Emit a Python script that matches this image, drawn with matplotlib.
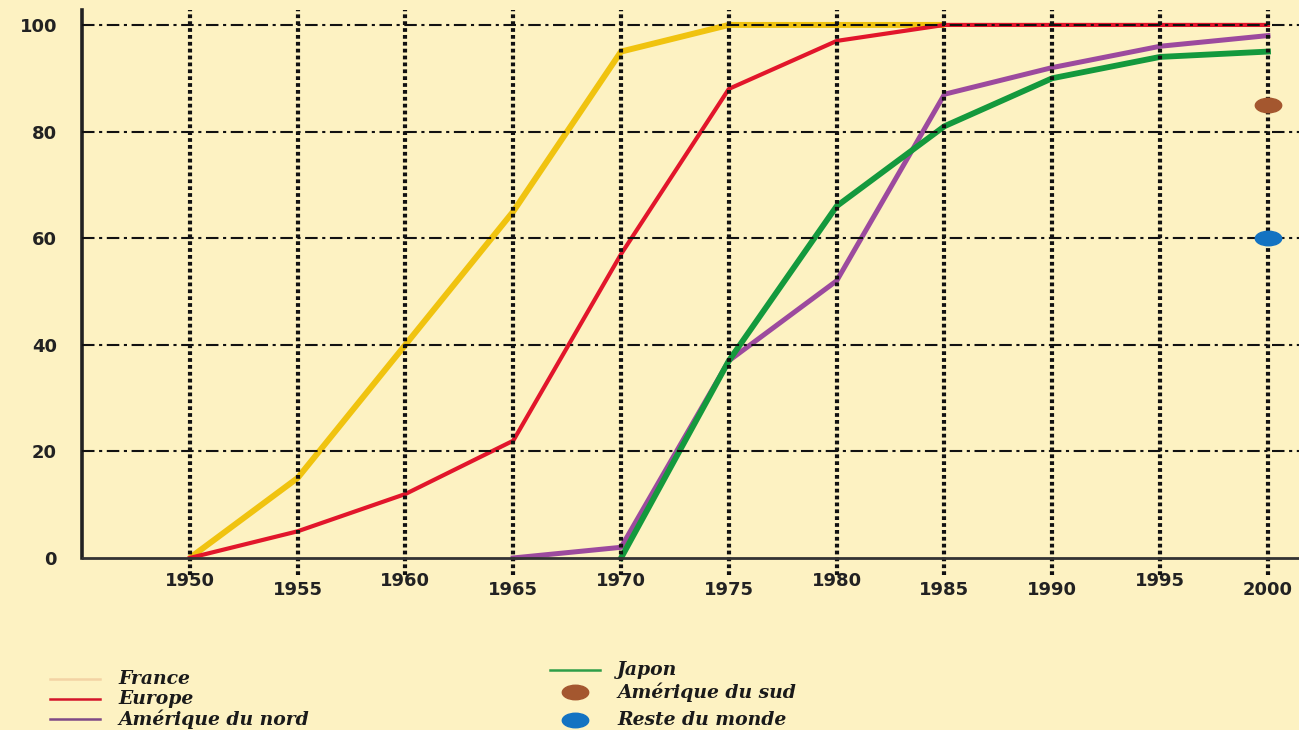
import matplotlib.pyplot as plt
import matplotlib.transforms as mtransforms
from matplotlib.path import Path
from matplotlib.lines import Line2D

# Taux d'équipement (%) par région
years = [1950, 1955, 1960, 1965, 1970, 1975, 1980, 1985, 1990, 1995, 2000]

france_years = [1950, 1955, 1960, 1965, 1970, 1975, 1980, 1985]
france = [0, 15, 40, 65, 95, 100, 100, 100]

europe_years = years
europe = [0, 5, 12, 22, 57, 88, 97, 100, 100, 100, 100]

nord_years = [1965, 1970, 1975, 1980, 1985, 1990, 1995, 2000]
amerique_nord = [0, 2, 37, 52, 87, 92, 96, 98]

japon_years = [1970, 1975, 1980, 1985, 1990, 1995, 2000]
japon = [0, 37, 66, 81, 90, 94, 95]

sud_year, amerique_sud = 2000, 85
monde_year, reste_monde = 2000, 60

y_ticks = [0, 20, 40, 60, 80, 100]
# labels alternate up/down under the axis
label_low = [False, True, False, True, False, True, False, True, True, False, True]

bg = '#FDF2C2'
c_france = '#F0C30F'
c_europe = '#E2162B'
c_nord = '#9C4A9E'
c_japon = '#14993D'
c_sud = '#A4572F'
c_monde = '#1373C2'

fig = plt.figure(figsize=(12.99, 7.30), dpi=100, facecolor=bg)
ax = fig.add_axes([0.0631, 0.2123, 0.9369, 0.774])
ax.set_facecolor(bg)
ax.set_xlim(1945, 2001.44)
ax.set_ylim(-3.2, 102.8)

ax.plot(france_years, france, color=c_france, lw=4.3, solid_capstyle='butt', zorder=2)
ax.plot(europe_years, europe, color=c_europe, lw=3.0, zorder=3)
ax.plot(nord_years, amerique_nord, color=c_nord, lw=3.6, zorder=3)
ax.plot(japon_years, japon, color=c_japon, lw=4.2, zorder=4)

# elliptical markers for the single 2000 values
ell = Path.unit_circle().transformed(mtransforms.Affine2D().scale(1.0, 0.55))
ax.plot([sud_year], [amerique_sud], marker=ell, ms=19, color=c_sud, ls='none', zorder=8)
ax.plot([monde_year], [reste_monde], marker=ell, ms=19, color=c_monde, ls='none', zorder=8)

# grid drawn over the curves
for y in y_ticks[1:]:
    ax.axhline(y, color='#111111', lw=1.5, dashes=(6, 2.2, 1.5, 2.2), zorder=6)
for x in years:
    ax.axvline(x, color='#111111', lw=3.0, dashes=(0.9, 0.75), zorder=6)
ax.axhline(0, color='#333333', lw=2.0, zorder=6)

for s in ['top', 'right', 'bottom']:
    ax.spines[s].set_visible(False)
ax.spines['left'].set_linewidth(2.6)
ax.spines['left'].set_color('#222222')
ax.spines['left'].set_bounds(0, 102.8)

tick_font = dict(fontsize=13, fontweight='bold', color='#222222', family='DejaVu Sans')

ax.set_xticks([])
ax.set_yticks(y_ticks)
ax.set_yticklabels([str(v) for v in y_ticks], **tick_font)
ax.tick_params(axis='y', length=0, pad=18)

trans = mtransforms.blended_transform_factory(ax.transData, fig.transFigure)
for yr, low in zip(years, label_low):
    ax.text(yr, 1 - (590 if low else 581) / 730, str(yr), transform=trans,
            ha='center', va='center', **tick_font)

# legend, two columns under the chart
legend_font = dict(family='DejaVu Serif', style='italic', weight='bold',
                   fontsize=13.5, color='#1a1a1a', va='center')
left_rows = [('France', '#F3D3A4', 679), ('Europe', '#D4142A', 699),
             ('Amérique du nord', '#7E4A86', 719)]
for label, col, ypx in left_rows:
    yf = 1 - ypx / 730
    fig.add_artist(Line2D([50 / 1299, 100 / 1299], [yf, yf], color=col, lw=1.8))
    fig.text(118 / 1299, yf, label, **legend_font)

yf = 1 - 670 / 730
fig.add_artist(Line2D([550 / 1299, 600 / 1299], [yf, yf], color='#2E9E48', lw=1.8))
fig.text(617 / 1299, yf, 'Japon', **legend_font)
for label, col, ypx in [('Amérique du sud', c_sud, 692), ('Reste du monde', c_monde, 720)]:
    yf = 1 - ypx / 730
    fig.add_artist(Line2D([575 / 1299], [yf], marker=ell, ms=19, color=col, ls='none'))
    fig.text(617 / 1299, yf, label, **legend_font)

fig.savefig('out.png', dpi=100, facecolor=bg)
